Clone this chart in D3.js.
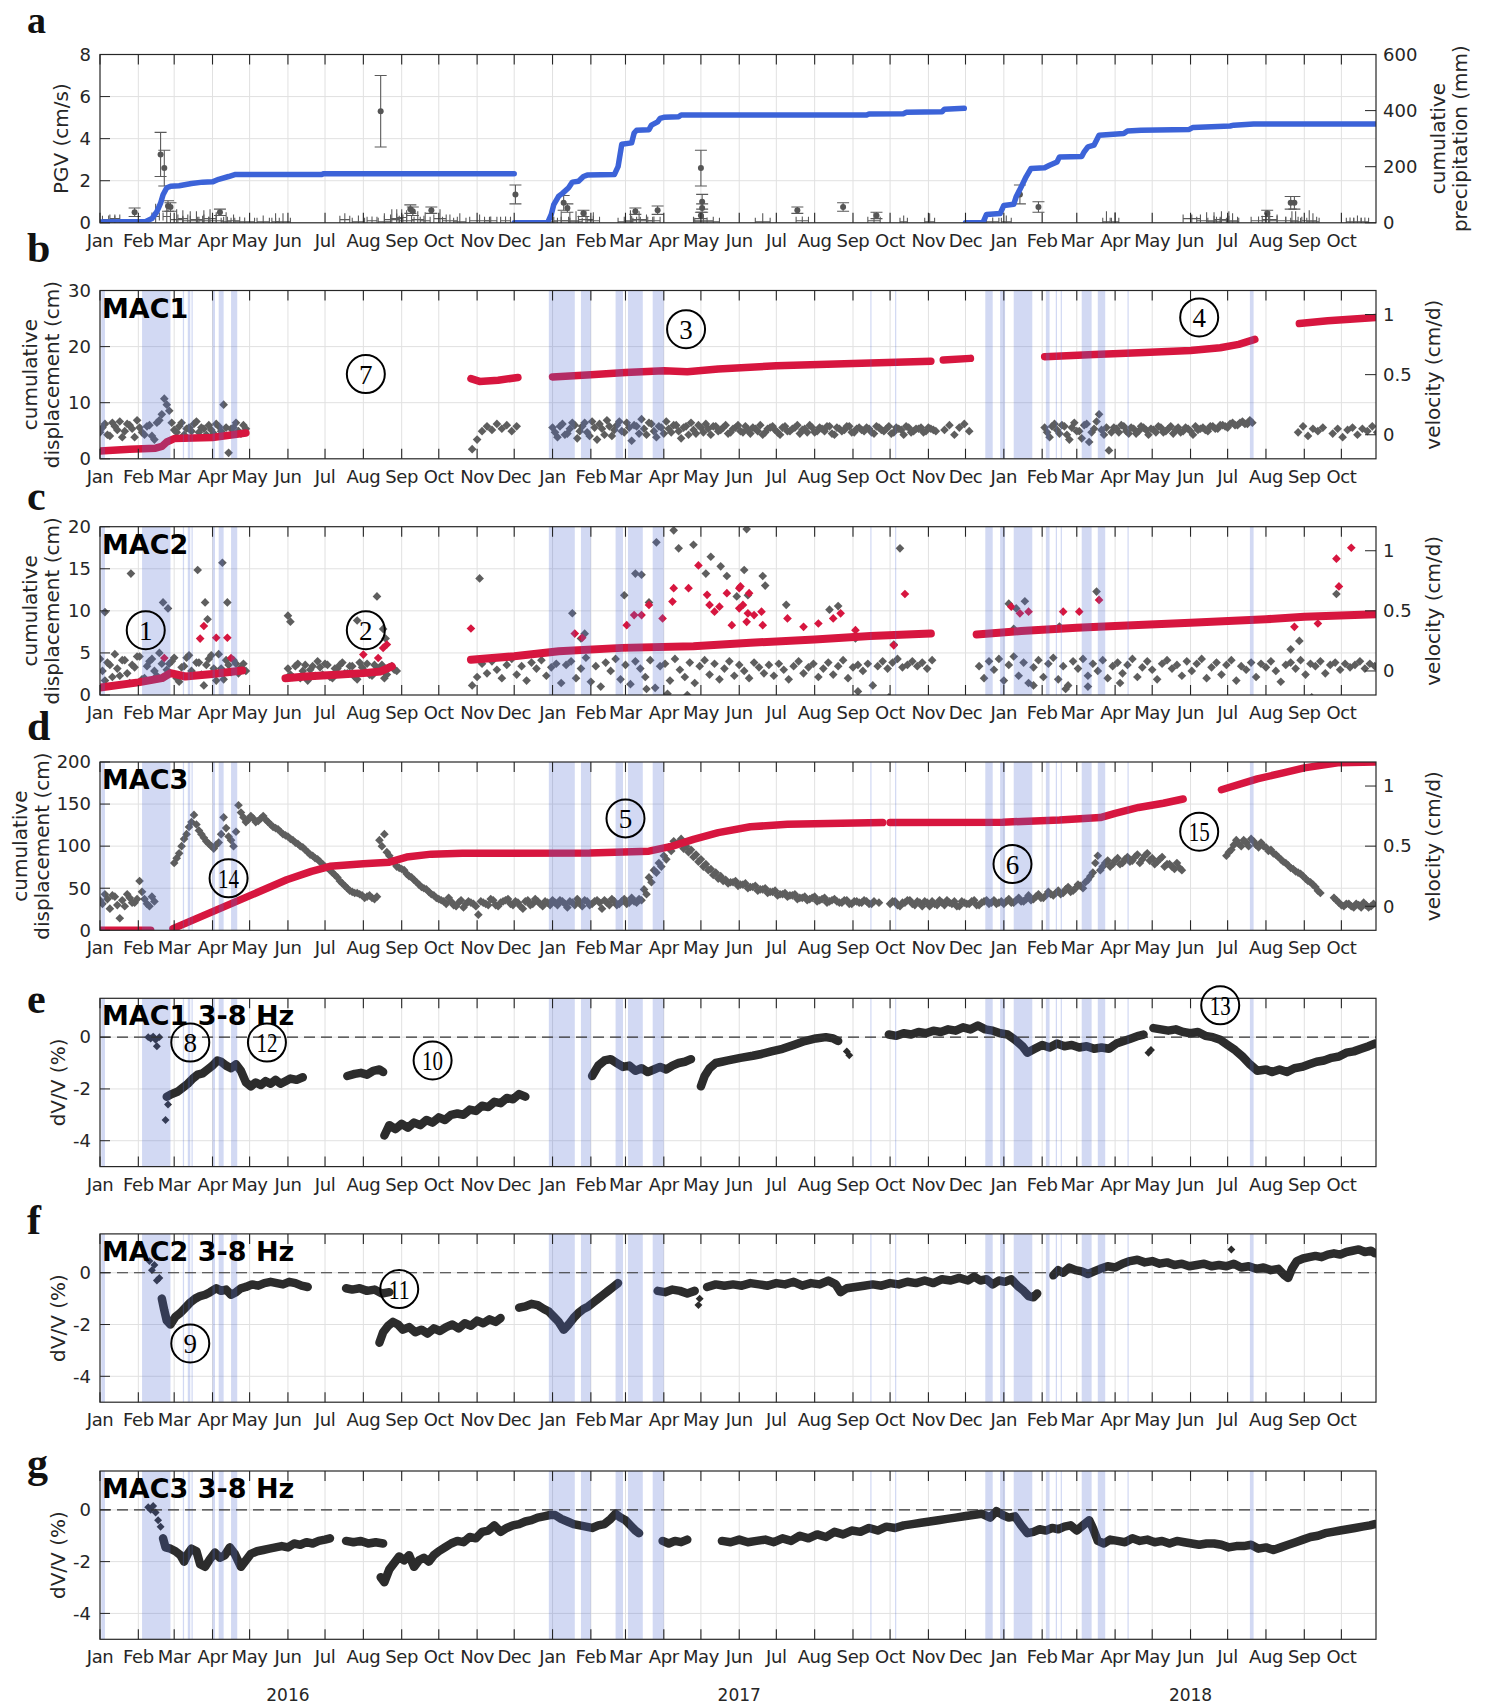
<!DOCTYPE html>
<html><head><meta charset="utf-8">
<script src="https://cdn.jsdelivr.net/npm/d3@7"></script>
<style>
body{margin:0;background:#fff;}
text{font-family:"DejaVu Sans",sans-serif;fill:#262626;}
</style></head><body><div id="chart"></div>
<script>
// ---------- data ----------
// rainy periods [start, end] (inclusive), shaded in panels b-g
const rainDays=[["2016-01-02","2016-01-04"],["2016-02-04","2016-02-26"],["2016-03-08","2016-03-08"],
["2016-03-12","2016-03-13"],["2016-03-15","2016-03-15"],["2016-04-01","2016-04-02"],["2016-04-06","2016-04-09"],["2016-04-16","2016-04-20"],
["2016-12-29","2017-01-18"],["2017-01-24","2017-01-31"],["2017-02-21","2017-02-26"],["2017-03-03","2017-03-14"],["2017-03-23","2017-03-31"],
["2017-09-15","2017-09-15"],["2017-10-05","2017-10-05"],["2017-12-17","2017-12-22"],["2017-12-29","2018-01-01"],["2018-01-09","2018-01-23"],
["2018-02-04","2018-02-06"],["2018-02-12","2018-02-12"],["2018-02-16","2018-02-16"],["2018-03-05","2018-03-12"],["2018-03-18","2018-03-23"],
["2018-04-11","2018-04-11"],["2018-07-19","2018-07-21"]];

// panel a: cumulative precipitation (mm), one curve per season
const precip2016=[["2016-01-01",3],["2016-02-07",5],["2016-02-12",15],["2016-02-16",40],["2016-02-19",70],["2016-02-21",100],["2016-02-24",125],
["2016-02-27",130],["2016-03-05",132],["2016-03-15",140],["2016-03-24",145],["2016-04-01",146],["2016-04-06",155],["2016-04-14",165],
["2016-04-19",172],["2016-06-28",172],["2016-06-30",175],["2016-12-01",175]];
const precip2017=[["2016-12-01",0],["2016-12-28",0],["2016-12-31",30],["2017-01-02",65],["2017-01-06",95],["2017-01-09",105],["2017-01-14",125],
["2017-01-17",145],["2017-01-22",148],["2017-01-26",165],["2017-01-29",170],["2017-02-20",172],["2017-02-23",200],["2017-02-26",280],
["2017-03-06",285],["2017-03-08",320],["2017-03-10",330],["2017-03-20",332],["2017-03-22",348],["2017-03-27",360],["2017-03-29",372],
["2017-04-01",376],["2017-04-13",378],["2017-04-15",384],["2017-09-12",384],["2017-09-14",388],["2017-10-12",389],["2017-10-14",394],
["2017-11-12",396],["2017-11-14",405],["2017-11-30",408]];
const precip2018=[["2017-12-01",0],["2017-12-15",0],["2017-12-18",30],["2017-12-29",33],["2018-01-01",62],["2018-01-09",66],["2018-01-11",93],
["2018-01-15",128],["2018-01-19",164],["2018-01-23",194],["2018-02-03",196],["2018-02-07",205],["2018-02-13",217],["2018-02-15",235],
["2018-03-05",236],["2018-03-07",253],["2018-03-10",271],["2018-03-15",277],["2018-03-19",312],["2018-04-08",318],["2018-04-11",327],
["2018-04-22",330],["2018-05-31",333],["2018-06-03",340],["2018-07-03",345],["2018-07-06",348],["2018-07-22",352],["2018-10-29",352]];

// panel a: PGV events [date, value, vertical half error, horizontal half error (days)]
const pgvEvents=[["2016-01-29",0.5,0.2,0],["2016-02-19",3.25,1.05,0],["2016-02-22",2.6,0.85,0],["2016-02-25",0.8,0.25,0],["2016-02-27",0.75,0.2,0],
["2016-04-07",0.5,0.15,0],["2016-08-15",5.3,1.7,0],["2016-09-08",0.65,0.2,0],["2016-09-10",0.55,0.2,0],["2016-09-25",0.6,0.15,0],
["2016-12-02",1.35,0.45,0],["2017-01-10",0.95,0.35,0],["2017-01-13",0.7,0.2,0],["2017-01-26",0.45,0.15,0],["2017-03-09",0.55,0.15,0],
["2017-03-27",0.6,0.2,0],["2017-05-01",2.6,0.85,0],["2017-05-02",1.0,0.35,0],["2017-05-02",0.7,0.2,0],["2017-05-01",0.35,0.15,0],
["2017-07-18",0.6,0.15,0],["2017-08-24",0.75,0.2,0],["2017-09-20",0.35,0.15,0],["2018-01-14",1.35,0.45,0],["2018-01-29",0.75,0.25,0],
["2018-08-02",0.45,0.15,0],["2018-08-21",0.95,0.3,0],["2018-08-24",0.95,0.3,0],
["2016-01-08",0.15,0.2,5],["2016-01-13",0.2,0.2,4],["2016-02-15",0.3,0.6,3],["2016-02-24",0.3,0.5,3],["2016-03-03",0.15,0.5,5],
["2016-03-08",0.2,0.4,4],["2016-03-14",0.1,0.45,6],["2016-03-19",0.15,0.4,5],["2016-03-25",0.1,0.5,4],["2016-03-30",0.2,0.45,5],
["2016-04-04",0.1,0.4,6],["2016-04-12",0.05,0.45,4],["2016-04-18",0.1,0.3,5],["2016-04-27",0.05,0.2,8],["2016-05-12",0.05,0.3,5],
["2016-05-22",0.05,0.4,3],["2016-05-28",0.05,0.4,6],["2016-07-17",0.15,0.3,4],["2016-07-28",0.05,0.3,5],["2016-08-08",0.1,0.2,4],
["2016-08-18",0.05,0.4,5],["2016-08-24",0.15,0.5,6],["2016-08-28",0.2,0.45,5],["2016-09-01",0.25,0.4,4],["2016-09-05",0.1,0.5,6],
["2016-09-14",0.15,0.4,5],["2016-09-20",0.1,0.4,4],["2016-10-02",0.2,0.45,5],["2016-10-10",0.1,0.3,6],["2016-10-18",0.05,0.4,5],
["2016-11-03",0.1,0.3,8],["2016-11-12",0.1,0.2,5],["2016-11-24",0.1,0.2,4],["2017-01-01",0.05,0.4,4],["2017-01-08",0.1,0.45,6],
["2017-01-15",0.1,0.4,7],["2017-01-20",0.05,0.5,5],["2017-01-28",0.15,0.4,6],["2017-02-03",0.1,0.4,5],["2017-03-01",0.05,0.3,6],
["2017-03-05",0.1,0.5,5],["2017-03-12",0.15,0.4,6],["2017-03-18",0.1,0.3,5],["2017-03-24",0.1,0.2,5],["2017-05-03",0.1,0.3,8],
["2017-05-06",0.05,0.2,10],["2017-06-20",0.05,0.4,6],["2017-07-22",0.1,0.2,5],["2017-09-18",0.1,0.4,5],["2017-10-12",0.05,0.3,3],
["2017-11-02",0.05,0.4,4],["2017-12-23",0.05,0.2,5],["2018-01-03",0.05,0.3,4],["2018-03-25",0.05,0.5,3],["2018-04-01",0.05,0.45,3],
["2018-06-02",0.2,0.2,7],["2018-06-14",0.1,0.4,8],["2018-06-20",0.05,0.45,5],["2018-06-26",0.15,0.4,6],["2018-07-02",0.1,0.45,7],
["2018-07-05",0.05,0.4,5],["2018-07-26",0.1,0.2,6],["2018-08-04",0.15,0.4,6],["2018-08-10",0.1,0.3,7],["2018-08-22",0.1,0.45,5],
["2018-08-25",0.05,0.5,4],["2018-09-05",0.1,0.5,6],["2018-09-08",0.05,0.4,5],["2018-10-08",0.05,0.2,3],["2018-10-14",0.05,0.3,3],
["2018-10-20",0.05,0.2,3]];

// panels b-d: cumulative displacement (cm), curve segments
const mac1Disp=[[["2016-01-01",1.4],["2016-01-25",1.7],["2016-02-15",1.9],["2016-02-20",2.2],["2016-02-24",3.0],["2016-03-01",3.6],["2016-04-01",3.8],["2016-04-28",4.6]],
[["2016-10-27",14.3],["2016-11-03",13.8],["2016-11-18",14.0],["2016-12-04",14.5]],
[["2017-01-01",14.6],["2017-02-01",15.0],["2017-03-01",15.4],["2017-04-01",15.7],["2017-04-20",15.5],["2017-05-15",16.0],["2017-07-01",16.6],["2017-09-01",17.0],["2017-11-03",17.4]],
[["2017-11-13",17.6],["2017-12-05",17.9]],
[["2018-02-03",18.2],["2018-03-15",18.6],["2018-04-20",18.9],["2018-06-01",19.3],["2018-06-25",19.8],["2018-07-10",20.4],["2018-07-23",21.3]],
[["2018-08-28",24.1],["2018-09-20",24.6],["2018-10-29",25.2]]];
const mac2Disp=[[["2016-01-01",0.9],["2016-02-01",1.5],["2016-02-20",2.0],["2016-02-27",2.6],["2016-03-10",2.2],["2016-04-01",2.5],["2016-04-25",2.9]],
[["2016-05-30",2.0],["2016-06-15",2.2],["2016-07-10",2.4],["2016-08-01",2.6],["2016-08-15",2.8],["2016-08-24",3.4]],
[["2016-10-27",4.2],["2016-12-01",4.6],["2017-01-06",5.2],["2017-02-26",5.6],["2017-04-25",5.8],["2017-06-10",6.2],["2017-08-01",6.6],["2017-09-15",7.0],["2017-11-03",7.3]],
[["2017-12-10",7.2],["2018-01-15",7.6],["2018-03-01",8.0],["2018-04-01",8.2],["2018-06-01",8.6],["2018-08-01",9.0],["2018-09-01",9.3],["2018-10-29",9.6]]];
const mac3Disp=[[["2016-01-01",0],["2016-02-11",0]],
[["2016-02-29",2],["2016-05-31",60],["2016-06-20",70],["2016-07-05",76],["2016-08-01",79],["2016-08-22",81],["2016-09-05",87],["2016-09-25",90.5],
["2016-10-20",91.5],["2017-01-31",92],["2017-03-20",94],["2017-04-08",100],["2017-04-25",108],["2017-05-15",116],["2017-06-10",123],["2017-07-10",126],["2017-09-25",128]],
[["2017-10-01",128],["2017-12-31",128.5],["2018-02-15",131],["2018-03-20",134],["2018-04-01",139],["2018-04-20",146],["2018-05-10",151],["2018-05-26",156]],
[["2018-06-26",167],["2018-07-25",180],["2018-08-15",187],["2018-09-01",193],["2018-09-28",199],["2018-10-29",200]]];
const mac2DispScatter=[["2016-02-22",4.4],["2016-03-22",6.7],["2016-03-25",8.2],["2016-04-04",6.8],["2016-04-13",6.8],["2016-04-16",4.4],
["2016-08-01",4.8],["2016-08-13",4.4],["2016-08-17",5.6],["2016-08-20",6.0],["2016-10-27",7.9],["2017-01-19",7.3],["2017-01-25",6.8],
["2017-03-02",8.3],["2017-03-08",9.5],["2017-03-14",9.5],["2017-03-20",10.7],["2017-03-31",9.1],["2017-04-08",11.1],["2017-04-09",12.7],
["2017-04-21",12.7],["2017-04-29",15.4],["2017-05-06",11.9],["2017-05-08",10.7],["2017-05-12",9.9],["2017-05-16",10.5],["2017-05-22",12.1],
["2017-05-26",8.3],["2017-06-01",12.7],["2017-06-02",12.9],["2017-06-04",10.7],["2017-06-08",9.7],["2017-06-01",10.3],["2017-06-07",8.7],
["2017-06-09",12.1],["2017-06-13",9.5],["2017-06-19",9.9],["2017-06-20",8.3],["2017-07-10",9.1],["2017-07-23",8.1],["2017-08-04",8.5],
["2017-08-16",9.1],["2017-08-22",9.7],["2017-09-03",7.7],["2017-10-04",5.9],["2017-10-13",12.0],["2018-01-07",10.5],["2018-01-14",9.7],
["2018-01-21",9.9],["2018-02-18",9.9],["2018-03-03",9.9],["2018-03-19",11.3],["2018-08-24",8.1],["2018-09-12",8.5],["2018-09-27",16.2],
["2018-09-29",12.9],["2018-10-09",17.5]];

// panels b-d: velocity (cm/d) [start date, step in days, values]
const mac1Vel=[["2016-01-01",4,[0.02,0.09,-0.01,0.07,0.11,0.03,0.08,-0.02,0.06,0.0,0.08,-0.04,0.12,0.3,0.2,0.04,0.07,0.0,0.06,0.09,0.02,0.05,0.08,0.01,0.07,0.25,-0.15,0.06,0.03,0.08]],
["2016-01-03",4,[0.06,0.0,0.1,0.04,-0.02,0.09,0.05,0.12,0.02,0.07,-0.01,0.1,0.17,0.25,0.1,0.02,0.1,0.05,0.03,0.11,0.06,0.0,0.04,0.09,0.03,0.06,0.05,0.1,0.01,0.05]],
["2016-10-28",4,[-0.12,-0.04,0.03,0.07,0.04,0.09,0.05,0.08,0.03,0.07]],
["2017-01-01",4,[0.06,-0.02,0.09,0.01,0.1,-0.03,0.07,0.02,0.11,-0.04,0.05,0.12,-0.01,0.08,0.03,0.1,-0.05,0.07,0.13,0.0,0.09,-0.02,0.06,
0.11,0.02,0.08,-0.03,0.07,0.1,0.01,0.06,0.09,0.0,0.07,0.04,0.08,0.02,0.06,0.03,0.07,0.01,0.05,0.08,0.02,0.06,0.04,0.0,0.07,0.03,0.06,
0.01,0.05,0.08,0.02,0.06,0.03,0.07,0.0,0.05,0.04,0.07,0.02,0.06,0.03,0.05,0.01,0.06,0.03,0.07,0.02,0.05,0.0,0.06,0.03,0.05,0.02,0.06,0.04]],
["2017-01-03",4,[0.02,0.07,0.0,0.05,0.08,0.03,0.1,-0.01,0.06,0.09,0.0,0.07,0.04,0.11,0.02,0.06,0.08,0.01,0.05,0.1,0.03,0.07,0.01,
0.05,0.08,0.03,0.06,0.0,0.04,0.08,0.02,0.05,0.07,0.03,0.06,0.01,0.05,0.08,0.02,0.04,0.06,0.03,0.0,0.05,0.07,0.02,0.06,0.03,0.05,0.08,
0.04,0.02,0.06,0.03,0.05,0.07,0.01,0.06,0.03,0.07,0.02,0.05,0.04,0.06,0.02,0.07,0.04,0.05,0.01,0.06,0.04,0.07,0.02,0.05,0.06,0.03,0.05,0.03]],
["2017-11-14",4,[0.04,0.08,0.0,0.06,0.09,0.03]],
["2018-02-03",4,[0.06,-0.02,0.09,0.01,0.07,-0.04,0.1,0.03,0.08,-0.06,0.05,0.17,0.0,-0.13,0.06,0.02,0.07,0.01,0.05,0.03,0.06,0.0,0.04,0.07,
0.02,0.05,0.01,0.06,0.03,0.05,0.0,0.04,0.06,0.03,0.07,0.05,0.08,0.06,0.1,0.08,0.11,0.09,0.1]],
["2018-02-05",4,[0.02,0.07,0.04,0.08,0.0,0.06,0.03,-0.03,0.09,0.02,0.11,0.04,0.06,0.02,0.05,0.08,0.03,0.06,0.01,0.07,0.04,0.05,0.02,
0.06,0.03,0.07,0.04,0.02,0.06,0.03,0.07,0.05,0.04,0.07,0.05,0.08,0.07,0.09,0.08,0.1,0.09,0.12]],
["2018-08-27",4,[0.02,0.07,-0.01,0.05,0.03,0.06]],
["2018-09-24",4,[0.01,0.05,-0.02,0.04,0.06,0.0,0.05,0.03,0.07,0.02]]];
const mac2Vel=[["2016-01-01",4,[0.1,-0.08,0.05,0.14,-0.04,0.09,-0.1,0.03,0.12,-0.06,0.08,0.0,0.15,-0.05,0.06,0.11,-0.09,0.04,0.13,-0.03,0.07,-0.12,0.1,0.02,0.14,-0.07,0.05,0.09,-0.02,0.06]],
["2016-01-03",4,[0.0,0.07,-0.05,0.02,0.09,-0.02,0.05,0.12,-0.07,0.04,0.1,-0.04,0.06,0.01,0.08,-0.06,0.03,0.11,0.0,0.07,-0.03,0.05,0.13,-0.08,0.02,0.09,-0.01,0.06,0.03,0.0]],
["2016-06-01",4,[0.02,-0.05,0.06,0.0,-0.08,0.04,0.08,-0.03,0.05,-0.06,0.02,0.07,-0.02,0.04,-0.07,0.03,0.06,-0.04,0.01,0.05,-0.03,0.04,0.0]],
["2016-06-03",4,[-0.03,0.04,-0.06,0.05,0.01,-0.04,0.03,0.06,-0.05,0.02,0.05,-0.02,0.04,-0.05,0.07,0.0,-0.03,0.05,0.02,-0.06,0.03,0.01]],
["2016-10-28",4,[-0.12,-0.05,0.06,-0.02,0.08,0.01,-0.06,0.05,0.1,-0.03,0.04,-0.08,0.07,0.02,0.09,-0.04,0.03,0.06,-0.1,0.05,
0.08,-0.06,0.02,0.11,-0.09,0.04,-0.13,0.07,0.0,0.1,-0.07,0.05,-0.11,0.08,0.02,-0.05,0.09,-0.14,0.04,0.06,
-0.08,0.1,0.01,-0.05,0.07,-0.1,0.04,0.09,-0.03,0.06,-0.07,0.02,0.08,-0.04,0.05,0.0,-0.06,0.07,0.03,-0.02,
0.05,-0.04,0.06,0.01,-0.07,0.04,0.08,-0.02,0.03,0.06,-0.05,0.02,0.07,-0.03,0.04,0.09,-0.06,0.03,0.05,0.0,
0.06,-0.12,0.04,0.08,0.02,0.07,0.1,0.03,0.05,0.08,0.04,0.07,0.02,0.09]],
["2017-12-12",4,[0.04,-0.06,0.08,0.01,0.1,-0.08,0.05,0.12,-0.04,0.07,-0.1,0.03,0.09,-0.05,0.06,0.11,-0.07,0.04,-0.12,0.08,
0.02,0.1,-0.04,0.06,0.0,0.09,-0.06,0.04,0.07,-0.02,0.05,0.1,-0.05,0.03,0.08,0.01,-0.07,0.06,0.09,0.02,
0.05,-0.04,0.08,0.0,0.06,0.1,-0.06,0.03,0.07,-0.03,0.05,0.09,-0.08,0.04,0.01,0.07,-0.05,0.06,0.03,0.08,
0.0,-0.09,0.05,0.07,0.02,0.09,-0.03,0.06,0.04,0.08,-0.02,0.05,0.07,0.01,0.06,0.03,0.05,0.08,0.02,0.06,0.04]]];
const mac2VelScatter=[["2016-01-05",0.49],["2016-01-26",0.81],["2016-02-21",0.57],["2016-02-25",0.52],["2016-03-20",0.84],["2016-03-26",0.57],
["2016-03-28",0.43],["2016-04-09",0.9],["2016-04-13",0.57],["2016-06-01",0.46],["2016-06-03",0.41],["2016-07-27",0.42],["2016-08-12",0.62],
["2016-08-17",0.35],["2016-08-19",0.27],["2016-11-03",0.77],["2017-01-17",0.48],["2017-01-24",0.27],["2017-01-27",0.31],["2017-02-28",0.63],
["2017-03-09",0.81],["2017-03-14",0.8],["2017-03-20",0.57],["2017-03-26",1.07],["2017-04-09",1.17],["2017-04-13",1.02],["2017-04-25",1.05],
["2017-05-05",0.81],["2017-05-09",0.95],["2017-05-17",0.87],["2017-05-22",0.79],["2017-05-30",0.62],["2017-06-07",1.18],["2017-06-05",0.84],
["2017-06-08",0.63],["2017-06-20",0.79],["2017-06-22",0.71],["2017-07-09",0.55],["2017-08-13",0.51],["2017-08-20",0.54],["2017-09-03",0.27],
["2017-10-04",0.22],["2017-10-09",1.02],["2017-04-04",-0.19],["2017-03-18",-0.15],["2017-04-20",-0.2],["2017-09-05",-0.17],["2017-09-30",-0.22],
["2018-01-05",0.56],["2018-01-11",0.52],["2018-01-18",0.58],["2018-01-09",0.35],["2018-03-17",0.66],["2018-02-15",0.37],["2018-08-28",0.25],
["2018-08-21",0.18],["2018-09-07",-0.22],["2018-09-27",0.64],["2018-01-25",-0.12],["2018-02-20",-0.15],["2018-03-10",-0.13],["2018-04-05",-0.1]];
const mac3Vel=[["2016-01-01",4,[0.05,0.1,-0.02,0.08,-0.1,0.0,0.07,0.03,0.21,0.06,0.0,0.04]],
["2016-01-03",4,[0.02,0.06,0.09,0.01,0.05,0.1,0.03,0.06,0.12,0.02,0.08]],
["2016-03-01",4,[0.36,0.44,0.56,0.66,0.76,0.63,0.57,0.52,0.48,0.53,0.74,0.58,0.5,0.84,0.74,0.72,0.73,0.71,0.75,0.7,0.66,
0.64,0.6,0.58,0.55,0.52,0.49,0.45,0.42,0.39,0.35,0.32,0.28,0.24,0.19,0.15,0.12,0.11,0.09,0.08,0.07,0.08]],
["2016-03-03",4,[0.4,0.5,0.6,0.7,0.68,0.6,0.54,0.5,0.51,0.6,0.65,0.55,0.62,0.78,0.7,0.75,0.7,0.73,0.72,0.68,0.65,
0.62,0.59,0.56,0.53,0.5,0.47,0.43,0.4,0.37,0.33,0.3,0.26,0.21,0.17,0.13,0.11,0.1,0.07,0.09,0.06]],
["2016-08-14",4,[0.55,0.6,0.42,0.36,0.32,0.3,0.25,0.22,0.18,0.15,0.12,0.09,0.06,0.04,0.07,0.01,0.03,-0.01,0.04,0.02,-0.07,
0.03,0.01,0.05,0.0,0.04,0.06,0.01,0.03,-0.02,0.05,0.02,0.04,0.0,0.03,0.05,0.01,0.04,-0.01,0.03,0.06,0.0,0.04,0.02,0.05,
-0.02,0.03,0.06,0.01,0.04,0.02,0.07,0.03,0.05,0.1,0.2,0.28,0.33,0.39,0.46,0.52,0.56,0.5,0.47,0.43,0.39,0.35,0.31,0.28,
0.25,0.22,0.2,0.21,0.18,0.19,0.16,0.17,0.14,0.15,0.12,0.13,0.1,0.11,0.09,0.1,0.07,0.08,0.06,0.08,0.05,0.07,0.04,0.06,
0.03,0.05,0.02,0.04,0.03,0.05,0.02,0.04,0.03]],
["2016-08-16",4,[0.5,0.45,0.38,0.33,0.31,0.27,0.24,0.2,0.16,0.14,0.1,0.07,0.05,0.02,0.04,0.0,0.05,0.02,0.03,0.0,0.04,
0.02,0.06,0.01,0.03,0.05,0.02,0.04,0.0,0.04,0.01,0.06,0.02,0.04,0.01,0.03,0.05,0.02,0.04,0.01,0.03,0.05,0.01,0.04,0.03,
0.05,0.01,0.04,0.02,0.06,0.03,0.04,0.06,0.14,0.24,0.3,0.36,0.42,0.49,0.54,0.53,0.48,0.45,0.41,0.37,0.33,0.3,0.26,
0.23,0.21,0.19,0.2,0.17,0.18,0.15,0.16,0.13,0.14,0.11,0.12,0.09,0.1,0.08,0.09,0.06,0.07,0.05,0.07,0.04,0.06,0.03,0.05,
0.04,0.03,0.05,0.02,0.04,0.03,0.04,0.02]],
["2017-10-01",4,[0.02,0.04,0.0,0.03,0.05,0.01,0.03,0.04,0.0,0.02,0.05,0.01,0.03,0.04,0.0,0.03,0.02,0.05,0.01,0.04,0.02,0.05,0.03,
0.02,0.06,0.03,0.07,0.04,0.09,0.06,0.1,0.07,0.12,0.09,0.13,0.11,0.16,0.13,0.18,0.15,0.22,0.28,0.42,0.33,0.38,0.35,
0.4,0.36,0.41,0.38,0.43,0.39,0.44,0.4,0.37,0.41,0.35,0.33,0.36,0.3]],
["2017-10-03",4,[0.04,0.01,0.03,0.05,0.02,0.04,0.0,0.03,0.04,0.01,0.03,0.05,0.02,0.0,0.04,0.02,0.04,0.01,0.03,0.05,0.03,0.02,0.04,
0.04,0.03,0.05,0.04,0.06,0.05,0.08,0.07,0.09,0.1,0.11,0.1,0.14,0.12,0.15,0.17,0.2,0.25,0.36,0.3,0.36,0.33,0.38,
0.35,0.39,0.37,0.41,0.36,0.42,0.38,0.35,0.39,0.33,0.35,0.31,0.32]],
["2018-06-30",4,[0.42,0.47,0.55,0.5,0.53,0.56,0.51,0.53,0.49,0.47,0.43,0.39,0.36,0.32,0.29,0.27,0.23,0.2,0.16,0.11]],
["2018-07-02",4,[0.45,0.51,0.52,0.55,0.5,0.54,0.49,0.5,0.46,0.44,0.41,0.37,0.34,0.31,0.28,0.25,0.21,0.18,0.13]],
["2018-09-25",4,[0.07,0.03,0.0,0.02,-0.01,0.01,0.03,-0.01,0.02]],
["2018-09-27",4,[0.05,0.01,0.02,0.0,0.02,-0.01,0.01,0.0]]];

// panels e-g: dV/V (%) curve segments and isolated points
const mac1Dvv=[[["2016-02-24",-2.3],["2016-02-28",-2.2],["2016-03-04",-2.1],["2016-03-08",-1.95],["2016-03-12",-1.8],["2016-03-16",-1.6],["2016-03-20",-1.45],
["2016-03-24",-1.4],["2016-03-28",-1.25],["2016-04-01",-1.1],["2016-04-05",-0.9],["2016-04-08",-0.95],["2016-04-12",-1.1],["2016-04-16",-1.2],
["2016-04-20",-1.05],["2016-04-24",-1.3],["2016-04-28",-1.75],["2016-05-02",-1.9],["2016-05-06",-1.75],["2016-05-10",-1.85],["2016-05-14",-1.7],
["2016-05-18",-1.8],["2016-05-22",-1.65],["2016-05-26",-1.8],["2016-05-30",-1.7],["2016-06-03",-1.6],["2016-06-08",-1.65],["2016-06-13",-1.55]],
[["2016-07-19",-1.5],["2016-07-25",-1.42],["2016-07-30",-1.38],["2016-08-04",-1.45],["2016-08-09",-1.3],["2016-08-14",-1.25],["2016-08-17",-1.35]],
[["2016-08-18",-3.8],["2016-08-22",-3.4],["2016-08-27",-3.55],["2016-09-01",-3.35],["2016-09-06",-3.5],["2016-09-11",-3.3],["2016-09-16",-3.4],
["2016-09-21",-3.2],["2016-09-26",-3.3],["2016-10-01",-3.1],["2016-10-06",-3.2],["2016-10-11",-3.0],["2016-10-16",-2.95],["2016-10-21",-3.0],
["2016-10-26",-2.8],["2016-10-31",-2.85],["2016-11-05",-2.65],["2016-11-10",-2.7],["2016-11-15",-2.5],["2016-11-20",-2.55],["2016-11-25",-2.35],
["2016-11-30",-2.4],["2016-12-05",-2.2],["2016-12-10",-2.3]],
[["2017-02-02",-1.5],["2017-02-07",-1.1],["2017-02-12",-0.9],["2017-02-17",-0.85],["2017-02-22",-1.0],["2017-02-27",-1.15],["2017-03-04",-1.1],
["2017-03-09",-1.3],["2017-03-14",-1.2],["2017-03-19",-1.35],["2017-03-24",-1.25],["2017-03-29",-1.15],["2017-04-03",-1.25],["2017-04-08",-1.1],
["2017-04-13",-1.0],["2017-04-18",-0.95],["2017-04-23",-0.85]],
[["2017-05-01",-1.9],["2017-05-04",-1.5],["2017-05-08",-1.2],["2017-05-13",-1.0],["2017-05-18",-0.95],["2017-05-23",-0.9],["2017-05-28",-0.85],
["2017-06-02",-0.8],["2017-06-12",-0.72],["2017-06-19",-0.65],["2017-06-27",-0.55],["2017-07-06",-0.45],["2017-07-15",-0.3],["2017-07-24",-0.15],
["2017-08-02",-0.05],["2017-08-10",0.0],["2017-08-16",-0.05],["2017-08-20",-0.15]],
[["2017-09-30",0.1],["2017-10-06",0.05],["2017-10-12",0.15],["2017-10-18",0.1],["2017-10-24",0.2],["2017-10-30",0.15],["2017-11-05",0.25],
["2017-11-11",0.2],["2017-11-17",0.3],["2017-11-23",0.25],["2017-11-29",0.38],["2017-12-05",0.3],["2017-12-11",0.45],["2017-12-17",0.3],
["2017-12-23",0.25],["2017-12-29",0.15],["2018-01-04",0.1],["2018-01-10",-0.1],["2018-01-16",-0.35],["2018-01-20",-0.6],["2018-01-26",-0.45],
["2018-02-01",-0.3],["2018-02-07",-0.4],["2018-02-13",-0.25],["2018-02-19",-0.35],["2018-02-25",-0.3],["2018-03-03",-0.4],["2018-03-09",-0.35],
["2018-03-15",-0.45],["2018-03-21",-0.4],["2018-03-27",-0.45],["2018-04-02",-0.25],["2018-04-08",-0.15],["2018-04-14",-0.05],["2018-04-20",0.05],["2018-04-24",0.1]],
[["2018-05-02",0.35],["2018-05-08",0.3],["2018-05-14",0.25],["2018-05-20",0.3],["2018-05-26",0.2],["2018-06-01",0.15],["2018-06-07",0.2],
["2018-06-13",0.05],["2018-06-19",0.0],["2018-06-25",-0.1],["2018-07-01",-0.3],["2018-07-07",-0.5],["2018-07-13",-0.75],["2018-07-19",-1.05],
["2018-07-25",-1.3],["2018-08-01",-1.25],["2018-08-06",-1.35],["2018-08-12",-1.25],["2018-08-18",-1.35],["2018-08-24",-1.2],["2018-08-30",-1.15],
["2018-09-05",-1.05],["2018-09-11",-0.95],["2018-09-17",-0.9],["2018-09-23",-0.8],["2018-09-29",-0.75],["2018-10-05",-0.6],["2018-10-11",-0.55],
["2018-10-17",-0.45],["2018-10-23",-0.35],["2018-10-28",-0.25]]];
const mac1DvvPts=[["2016-02-09",0.0],["2016-02-11",-0.05],["2016-02-13",0.02],["2016-02-15",-0.1],["2016-02-16",-0.35],["2016-02-18",0.0],
["2016-02-23",-3.2],["2016-02-25",-2.6],["2017-08-27",-0.55],["2017-08-29",-0.7],["2018-04-28",-0.6],["2018-04-30",-0.5]];
const mac2Dvv=[[["2016-02-20",-1.0],["2016-02-22",-1.45],["2016-02-24",-1.85],["2016-02-27",-2.0],["2016-03-02",-1.7],["2016-03-06",-1.55],
["2016-03-10",-1.35],["2016-03-14",-1.15],["2016-03-18",-1.0],["2016-03-22",-0.9],["2016-03-26",-0.85],["2016-03-30",-0.75],["2016-04-04",-0.6],
["2016-04-08",-0.7],["2016-04-12",-0.65],["2016-04-16",-0.85],["2016-04-20",-0.75],["2016-04-24",-0.6],["2016-04-28",-0.55],["2016-05-03",-0.45],
["2016-05-08",-0.5],["2016-05-13",-0.4],["2016-05-18",-0.35],["2016-05-23",-0.4],["2016-05-28",-0.45],["2016-06-02",-0.35],["2016-06-07",-0.4],
["2016-06-12",-0.5],["2016-06-17",-0.55]],
[["2016-07-18",-0.6],["2016-07-23",-0.65],["2016-07-29",-0.6],["2016-08-04",-0.7],["2016-08-10",-0.65],["2016-08-16",-0.8],["2016-08-22",-0.75]],
[["2016-08-14",-2.7],["2016-08-17",-2.3],["2016-08-21",-2.05],["2016-08-25",-1.9],["2016-08-29",-2.0],["2016-09-02",-2.2],["2016-09-07",-2.1],
["2016-09-12",-2.3],["2016-09-17",-2.2],["2016-09-22",-2.35],["2016-09-27",-2.15],["2016-10-02",-2.25],["2016-10-07",-2.1],["2016-10-12",-2.0],
["2016-10-17",-2.15],["2016-10-22",-1.95],["2016-10-27",-2.05],["2016-11-01",-1.85],["2016-11-06",-1.95],["2016-11-11",-1.8],["2016-11-16",-1.9],["2016-11-20",-1.75]],
[["2016-12-05",-1.35],["2016-12-10",-1.3],["2016-12-15",-1.2],["2016-12-20",-1.25],["2016-12-25",-1.4],["2016-12-29",-1.5],["2017-01-02",-1.7],
["2017-01-06",-1.9],["2017-01-10",-2.2],["2017-01-14",-2.0],["2017-01-18",-1.75],["2017-01-22",-1.55],["2017-01-26",-1.4],["2017-01-30",-1.3],
["2017-02-03",-1.15],["2017-02-07",-1.0],["2017-02-11",-0.85],["2017-02-15",-0.7],["2017-02-19",-0.55],["2017-02-23",-0.4]],
[["2017-03-27",-0.7],["2017-04-02",-0.75],["2017-04-08",-0.65],["2017-04-14",-0.7],["2017-04-20",-0.8],["2017-04-26",-0.7]],
[["2017-05-06",-0.55],["2017-05-13",-0.45],["2017-05-20",-0.5],["2017-05-27",-0.45],["2017-06-03",-0.5],["2017-06-10",-0.4],["2017-06-17",-0.45],
["2017-06-24",-0.5],["2017-07-01",-0.4],["2017-07-08",-0.45],["2017-07-15",-0.35],["2017-07-22",-0.5],["2017-07-29",-0.4],["2017-08-05",-0.45],
["2017-08-12",-0.3],["2017-08-18",-0.45],["2017-08-22",-0.75],["2017-08-27",-0.6],["2017-09-03",-0.55],["2017-09-10",-0.5],["2017-09-17",-0.45],
["2017-09-24",-0.5],["2017-10-01",-0.4],["2017-10-08",-0.45],["2017-10-15",-0.35],["2017-10-22",-0.4],["2017-10-29",-0.3],["2017-11-05",-0.4],
["2017-11-12",-0.25],["2017-11-19",-0.3],["2017-11-26",-0.2],["2017-12-03",-0.3],["2017-12-08",-0.15],["2017-12-13",-0.3],["2017-12-18",-0.25],
["2017-12-23",-0.45],["2017-12-28",-0.3],["2018-01-02",-0.35],["2018-01-07",-0.25],["2018-01-12",-0.5],["2018-01-17",-0.7],["2018-01-21",-0.9],
["2018-01-25",-0.95],["2018-01-28",-0.8]],
[["2018-02-10",-0.1],["2018-02-14",0.1],["2018-02-18",0.0],["2018-02-23",0.2],["2018-02-28",0.1],["2018-03-05",0.05],["2018-03-10",-0.05],
["2018-03-15",0.05],["2018-03-20",0.15],["2018-03-26",0.25],["2018-04-01",0.2],["2018-04-07",0.35],["2018-04-13",0.45],["2018-04-19",0.5],
["2018-04-25",0.4],["2018-05-01",0.45],["2018-05-07",0.35],["2018-05-13",0.4],["2018-05-19",0.3],["2018-05-25",0.35],["2018-05-31",0.25],
["2018-06-06",0.3],["2018-06-12",0.35],["2018-06-18",0.25],["2018-06-24",0.3],["2018-06-30",0.25],["2018-07-06",0.35],["2018-07-12",0.2],
["2018-07-18",0.25],["2018-07-24",0.15],["2018-07-30",0.2],["2018-08-05",0.1],["2018-08-11",0.15],["2018-08-16",-0.1],["2018-08-19",-0.2],
["2018-08-22",0.15],["2018-08-26",0.45],["2018-08-31",0.55],["2018-09-05",0.6],["2018-09-10",0.65],["2018-09-15",0.6],["2018-09-20",0.7],
["2018-09-25",0.75],["2018-09-30",0.7],["2018-10-05",0.8],["2018-10-10",0.85],["2018-10-15",0.9],["2018-10-20",0.8],["2018-10-25",0.85],["2018-10-28",0.75]]];
const mac2DvvPts=[["2016-02-10",0.45],["2016-02-12",0.1],["2016-02-14",0.3],["2016-02-16",-0.3],["2016-02-18",-0.2],["2017-04-29",-1.25],
["2017-04-30",-1.0],["2018-07-04",0.9]];
const mac3Dvv=[[["2016-02-21",-1.1],["2016-02-23",-1.45],["2016-02-27",-1.5],["2016-03-02",-1.6],["2016-03-06",-1.75],["2016-03-09",-2.0],
["2016-03-12",-1.7],["2016-03-15",-1.5],["2016-03-19",-1.6],["2016-03-22",-2.1],["2016-03-26",-2.2],["2016-03-30",-1.9],["2016-04-03",-1.65],
["2016-04-07",-1.85],["2016-04-11",-1.75],["2016-04-15",-1.45],["2016-04-19",-1.7],["2016-04-24",-2.2],["2016-04-28",-1.95],["2016-05-02",-1.7],
["2016-05-07",-1.6],["2016-05-12",-1.55],["2016-05-17",-1.5],["2016-05-22",-1.45],["2016-05-27",-1.4],["2016-06-01",-1.45],["2016-06-06",-1.3],
["2016-06-11",-1.35],["2016-06-16",-1.25],["2016-06-21",-1.3],["2016-06-26",-1.2],["2016-07-01",-1.15],["2016-07-05",-1.1]],
[["2016-07-18",-1.2],["2016-07-24",-1.25],["2016-07-30",-1.2],["2016-08-05",-1.3],["2016-08-11",-1.25],["2016-08-17",-1.3]],
[["2016-08-15",-2.6],["2016-08-18",-2.8],["2016-08-22",-2.3],["2016-08-26",-2.05],["2016-08-30",-1.8],["2016-09-03",-1.95],["2016-09-07",-1.75],
["2016-09-11",-2.2],["2016-09-15",-1.95],["2016-09-19",-1.85],["2016-09-23",-2.0],["2016-09-27",-1.75],["2016-10-01",-1.6],["2016-10-06",-1.45],
["2016-10-11",-1.3],["2016-10-16",-1.2],["2016-10-21",-1.25],["2016-10-26",-1.05],["2016-10-31",-1.1],["2016-11-05",-0.85],["2016-11-10",-0.8],
["2016-11-15",-0.6],["2016-11-20",-0.85],["2016-11-25",-0.7],["2016-11-30",-0.6],["2016-12-05",-0.55],["2016-12-10",-0.45],["2016-12-15",-0.4],
["2016-12-20",-0.3],["2016-12-25",-0.25],["2016-12-30",-0.2],["2017-01-03",-0.2],["2017-01-08",-0.35],["2017-01-13",-0.45],["2017-01-18",-0.55],
["2017-01-23",-0.6],["2017-01-28",-0.65],["2017-02-02",-0.7],["2017-02-07",-0.6],["2017-02-12",-0.55],["2017-02-17",-0.35],["2017-02-21",-0.15],
["2017-02-25",-0.3],["2017-03-01",-0.4],["2017-03-05",-0.6],["2017-03-09",-0.8],["2017-03-12",-0.9]],
[["2017-03-31",-1.2],["2017-04-05",-1.3],["2017-04-10",-1.2],["2017-04-15",-1.25],["2017-04-20",-1.15]],
[["2017-05-18",-1.2],["2017-05-25",-1.25],["2017-06-01",-1.15],["2017-06-08",-1.25],["2017-06-15",-1.2],["2017-06-22",-1.15],["2017-06-29",-1.25],
["2017-07-06",-1.1],["2017-07-13",-1.2],["2017-07-20",-1.0],["2017-07-27",-1.1],["2017-08-03",-0.95],["2017-08-10",-1.05],["2017-08-17",-0.85],
["2017-08-24",-0.95],["2017-08-31",-0.8],["2017-09-07",-0.85],["2017-09-14",-0.7],["2017-09-21",-0.8],["2017-09-28",-0.65],["2017-10-05",-0.7],
["2017-10-12",-0.6],["2017-10-19",-0.55],["2017-10-26",-0.5],["2017-11-02",-0.45],["2017-11-09",-0.4],["2017-11-16",-0.35],["2017-11-23",-0.3],
["2017-11-30",-0.25],["2017-12-07",-0.2],["2017-12-14",-0.15],["2017-12-21",-0.3],["2017-12-26",-0.05],["2017-12-31",-0.2],["2018-01-05",-0.3],
["2018-01-10",-0.25],["2018-01-15",-0.6],["2018-01-20",-0.9],["2018-01-25",-0.85],["2018-01-30",-0.75],["2018-02-04",-0.8],["2018-02-09",-0.7],
["2018-02-14",-0.75],["2018-02-19",-0.65],["2018-02-24",-0.6],["2018-03-01",-0.8],["2018-03-06",-0.6],["2018-03-11",-0.4],["2018-03-14",-0.7],
["2018-03-18",-1.2],["2018-03-23",-1.3],["2018-03-28",-1.15],["2018-04-03",-1.2],["2018-04-09",-1.25],["2018-04-15",-1.1],["2018-04-21",-1.2],
["2018-04-27",-1.15],["2018-05-03",-1.25],["2018-05-09",-1.2],["2018-05-15",-1.3],["2018-05-21",-1.2],["2018-05-27",-1.25],["2018-06-02",-1.3],
["2018-06-08",-1.35],["2018-06-14",-1.3],["2018-06-20",-1.3],["2018-06-26",-1.35],["2018-07-02",-1.45],["2018-07-08",-1.4],["2018-07-14",-1.4],
["2018-07-20",-1.35],["2018-07-26",-1.5],["2018-08-01",-1.45],["2018-08-07",-1.55],["2018-08-13",-1.45],["2018-08-19",-1.35],["2018-08-25",-1.25],
["2018-08-31",-1.15],["2018-09-06",-1.05],["2018-09-12",-1.0],["2018-09-18",-0.9],["2018-09-24",-0.85],["2018-09-30",-0.8],["2018-10-06",-0.75],
["2018-10-12",-0.7],["2018-10-18",-0.65],["2018-10-24",-0.6],["2018-10-28",-0.55]]];
const mac3DvvPts=[["2016-02-09",0.1],["2016-02-11",0.0],["2016-02-13",0.15],["2016-02-15",-0.1],["2016-02-17",-0.4],["2016-02-19",-0.65]];

// circled annotations [label, panel, date, value on left axis]
const notes=[["1","c","2016-02-07",7.7],["2","c","2016-08-03",7.7],["3","b","2017-04-19",23.1],["4","b","2018-06-08",25.2],
["5","d","2017-03-01",133],["6","d","2018-01-08",78.7],["7","b","2016-08-03",15.1],["8","e","2016-03-14",-0.21],["9","f","2016-03-14",-2.73],
["10","e","2016-09-26",-0.9],["11","f","2016-08-30",-0.63],["12","e","2016-05-15",-0.21],["13","e","2018-06-25",1.23],
["14","d","2016-04-14",61.8],["15","d","2018-06-08",117.2]];
const yearLabels=[["2016-06-01","2016"],["2017-06-01","2017"],["2018-06-01","2018"]];

// ---------- layout ----------
const W=1487,H=1705,L=100,R=1376,PH=168.3;
const panelTop={a:54.5,b:290.5,c:526.7,d:762,e:998.3,f:1233.9,g:1471};
const P=d3.utcParse("%Y-%m-%d");
const RED="#d7163f",GRAY="#5e5e5e",DARK="#2c2c2c",BLUE="#3c63d8";

const svg=d3.select("#chart").append("svg").attr("width",W).attr("height",H);
svg.append("rect").attr("width",W).attr("height",H).attr("fill","#fff");
const x=d3.scaleUtc().domain([P("2016-01-01"),P("2018-10-29")]).range([L,R]);
const months=d3.utcMonths(P("2016-01-01"),P("2018-10-30"));

function stepPts(segs){
  const out=[];
  segs.forEach(([s,step,vals])=>{const t0=P(s);vals.forEach((v,i)=>out.push([d3.utcDay.offset(t0,i*step),v]));});
  return out;
}
function panel(key,leftDom,leftTicks,rightDom,rightTicks){
  const top=panelTop[key],bot=top+PH;
  const yL=d3.scaleLinear().domain(leftDom).range([bot,top]);
  const yR=rightDom?d3.scaleLinear().domain(rightDom).range([bot,top]):null;
  const g=svg.append("g");
  g.selectAll(null).data(months.slice(1)).join("line")
    .attr("x1",d=>x(d)).attr("x2",d=>x(d)).attr("y1",top).attr("y2",bot).attr("stroke","#e1e1e1");
  g.selectAll(null).data(leftTicks.filter(t=>t>leftDom[0]&&t<leftDom[1])).join("line")
    .attr("x1",L).attr("x2",R).attr("y1",d=>yL(d)).attr("y2",d=>yL(d)).attr("stroke","#e1e1e1");
  svg.append("clipPath").attr("id","clip-"+key).append("rect").attr("x",L).attr("y",top).attr("width",R-L).attr("height",PH);
  const plot=g.append("g").attr("clip-path",`url(#clip-${key})`);
  return {key,g,plot,yL,yR,top,bot,leftTicks,rightTicks};
}
function lines(p,segs,y,color,w){
  const ln=d3.line().x(d=>x(P(d[0]))).y(d=>y(d[1]));
  p.plot.selectAll(null).data(segs).join("path").attr("d",ln).attr("fill","none")
    .attr("stroke",color).attr("stroke-width",w).attr("stroke-linejoin","round").attr("stroke-linecap","round");
}
function dots(p,pts,y,color,size){
  const sym=d3.symbol(d3.symbolDiamond2,size);
  p.plot.selectAll(null).data(pts).join("path").attr("d",sym)
    .attr("transform",d=>`translate(${x(typeof d[0]==="string"?P(d[0]):d[0])},${y(d[1])})`).attr("fill",color);
}
function finish(p,opts){
  const {g,top,bot,yL,yR}=p;
  if(opts.rain){
    p.plot.selectAll(null).data(rainDays).join("rect")
      .attr("x",d=>x(P(d[0]))).attr("width",d=>Math.max(1.2,x(d3.utcDay.offset(P(d[1]),1))-x(P(d[0]))))
      .attr("y",top).attr("height",PH).attr("fill","rgb(80,110,210)").attr("opacity",0.26);
  }
  if(opts.zero){
    g.append("line").attr("x1",L).attr("x2",R).attr("y1",yL(0)).attr("y2",yL(0))
      .attr("stroke","#333").attr("stroke-width",1.2).attr("stroke-dasharray","11,6");
  }
  g.append("rect").attr("x",L).attr("y",top).attr("width",R-L).attr("height",PH)
    .attr("fill","none").attr("stroke","#262626").attr("stroke-width",1.2);
  g.selectAll(null).data(months).join("path")
    .attr("d",d=>`M${x(d)},${bot}v-10M${x(d)},${top}v10`).attr("stroke","#262626").attr("stroke-width",1.1);
  g.selectAll(null).data(months).join("text").attr("x",d=>x(d)).attr("y",bot+24)
    .attr("text-anchor","middle").attr("font-size",18).attr("letter-spacing",-0.4).text(d3.utcFormat("%b"));
  g.selectAll(null).data(p.leftTicks).join("path").attr("d",d=>`M${L},${yL(d)}h10`).attr("stroke","#262626");
  g.selectAll(null).data(p.leftTicks).join("text").attr("x",91).attr("y",d=>yL(d)).attr("dy","0.35em")
    .attr("text-anchor","end").attr("font-size",18).text(d=>d);
  if(yR){
    g.selectAll(null).data(p.rightTicks).join("path").attr("d",d=>`M${R},${yR(d)}h-11`).attr("stroke","#262626");
    g.selectAll(null).data(p.rightTicks).join("text").attr("x",1383).attr("y",d=>yR(d)).attr("dy","0.35em")
      .attr("font-size",18).text(d=>d);
  }
  const cy=(top+bot)/2;
  const ttl=(xx,lns)=>{
    lns.forEach((t,i)=>g.append("text").attr("transform",`translate(${xx[i]},${cy}) rotate(-90)`)
      .attr("text-anchor","middle").attr("font-size",20).attr("fill","#1e1e1e").text(t));
  };
  ttl(opts.leftX,opts.left);
  if(opts.right) ttl(opts.rightX,opts.right);
  if(opts.name) g.append("text").attr("x",L+2).attr("y",top+27).attr("font-size",27).attr("font-weight","bold")
    .style("fill","#000").text(opts.name);
  g.append("text").attr("x",27).attr("y",opts.letterY).attr("font-size",opts.letterSize||42).attr("font-weight","bold")
    .style("fill","#111").style("font-family","'Liberation Serif',serif").text(opts.letter);
  notes.filter(n=>n[1]===p.key).forEach(n=>{
    const cx=x(P(n[2])),cyy=yL(n[3]);
    g.append("circle").attr("cx",cx).attr("cy",cyy).attr("r",19).attr("fill","none").attr("stroke","#000").attr("stroke-width",2);
    const t=g.append("text").attr("x",cx).attr("y",cyy).attr("dy","0.35em").attr("text-anchor","middle")
      .style("font-family","'Liberation Serif',serif").attr("font-size",27).style("fill","#000").text(n[0]);
    if(n[0].length>1) t.attr("textLength",21).attr("lengthAdjust","spacingAndGlyphs");
  });
}

// ---------- panel a ----------
const pa=panel("a",[0,8],[0,2,4,6,8],[0,600],[0,200,400,600]);
{
  const y=pa.yL,err=pa.plot.append("g").attr("stroke","#5a5a5a").attr("stroke-width",1.1).attr("fill","none");
  pgvEvents.forEach(([d,v,ey,ex])=>{
    const cx=x(P(d));
    if(ey>0){
      err.append("path").attr("d",`M${cx},${y(v-ey)}V${y(v+ey)}`);
      if(ex===0) err.append("path").attr("d",`M${cx-6},${y(v-ey)}h12M${cx-6},${y(v+ey)}h12`);
    }
    if(ex>0){
      const x0=x(d3.utcDay.offset(P(d),-ex)),x1=x(d3.utcDay.offset(P(d),ex));
      err.append("path").attr("d",`M${x0},${y(v)}H${x1}M${x0},${y(v)-4}v8M${x1},${y(v)-4}v8`);
    }
  });
  pa.plot.selectAll(null).data(pgvEvents.filter(e=>e[3]===0)).join("circle")
    .attr("cx",d=>x(P(d[0]))).attr("cy",d=>y(d[1])).attr("r",3).attr("fill","#555");
  lines(pa,[precip2016,precip2017,precip2018],pa.yR,BLUE,5.5);
  finish(pa,{left:["PGV (cm/s)"],leftX:[68],right:["cumulative","precipitation (mm)"],rightX:[1445,1467],letter:"a",letterY:33,letterSize:38});
}
// ---------- panels b-d ----------
const dispOpts=(name,letter,letterY,lx)=>({rain:true,name,letter,letterY,left:["cumulative","displacement (cm)"],leftX:lx,
  right:["velocity (cm/d)"],rightX:[1440]});
const VS=48;
const pb=panel("b",[0,30],[0,10,20,30],[-0.2,1.2],[0,0.5,1]);
dots(pb,stepPts(mac1Vel),pb.yR,GRAY,VS);
lines(pb,mac1Disp,pb.yL,RED,7.5);
finish(pb,dispOpts("MAC1","b",262,[37,59]));

const pc=panel("c",[0,20],[0,5,10,15,20],[-0.2,1.2],[0,0.5,1]);
dots(pc,stepPts(mac2Vel),pc.yR,GRAY,VS);
dots(pc,mac2VelScatter,pc.yR,GRAY,VS);
lines(pc,mac2Disp,pc.yL,RED,8);
dots(pc,mac2DispScatter,pc.yL,RED,VS);
finish(pc,dispOpts("MAC2","c",510,[37,59]));

const pd=panel("d",[0,200],[0,50,100,150,200],[-0.2,1.2],[0,0.5,1]);
dots(pd,stepPts(mac3Vel),pd.yR,GRAY,VS);
lines(pd,mac3Disp,pd.yL,RED,7.5);
finish(pd,dispOpts("MAC3","d",740,[27,49]));

// ---------- panels e-g ----------
const dvvOpts=(name,letter,letterY)=>({rain:true,zero:true,name,letter,letterY,left:["dV/V (%)"],leftX:[65]});
[["e",mac1Dvv,mac1DvvPts,"MAC1 3-8 Hz",1013],["f",mac2Dvv,mac2DvvPts,"MAC2 3-8 Hz",1234],["g",mac3Dvv,mac3DvvPts,"MAC3 3-8 Hz",1477]]
.forEach(([k,segs,pts,name,ly])=>{
  const p=panel(k,[-5,1.5],[-4,-2,0]);
  lines(p,segs,p.yL,DARK,8.5);
  dots(p,pts,p.yL,DARK,40);
  finish(p,dvvOpts(name,k,ly));
});

svg.selectAll(null).data(yearLabels).join("text").attr("x",d=>x(P(d[0]))).attr("y",1701)
  .attr("text-anchor","middle").attr("font-size",17).text(d=>d[1]);
</script></body></html>
